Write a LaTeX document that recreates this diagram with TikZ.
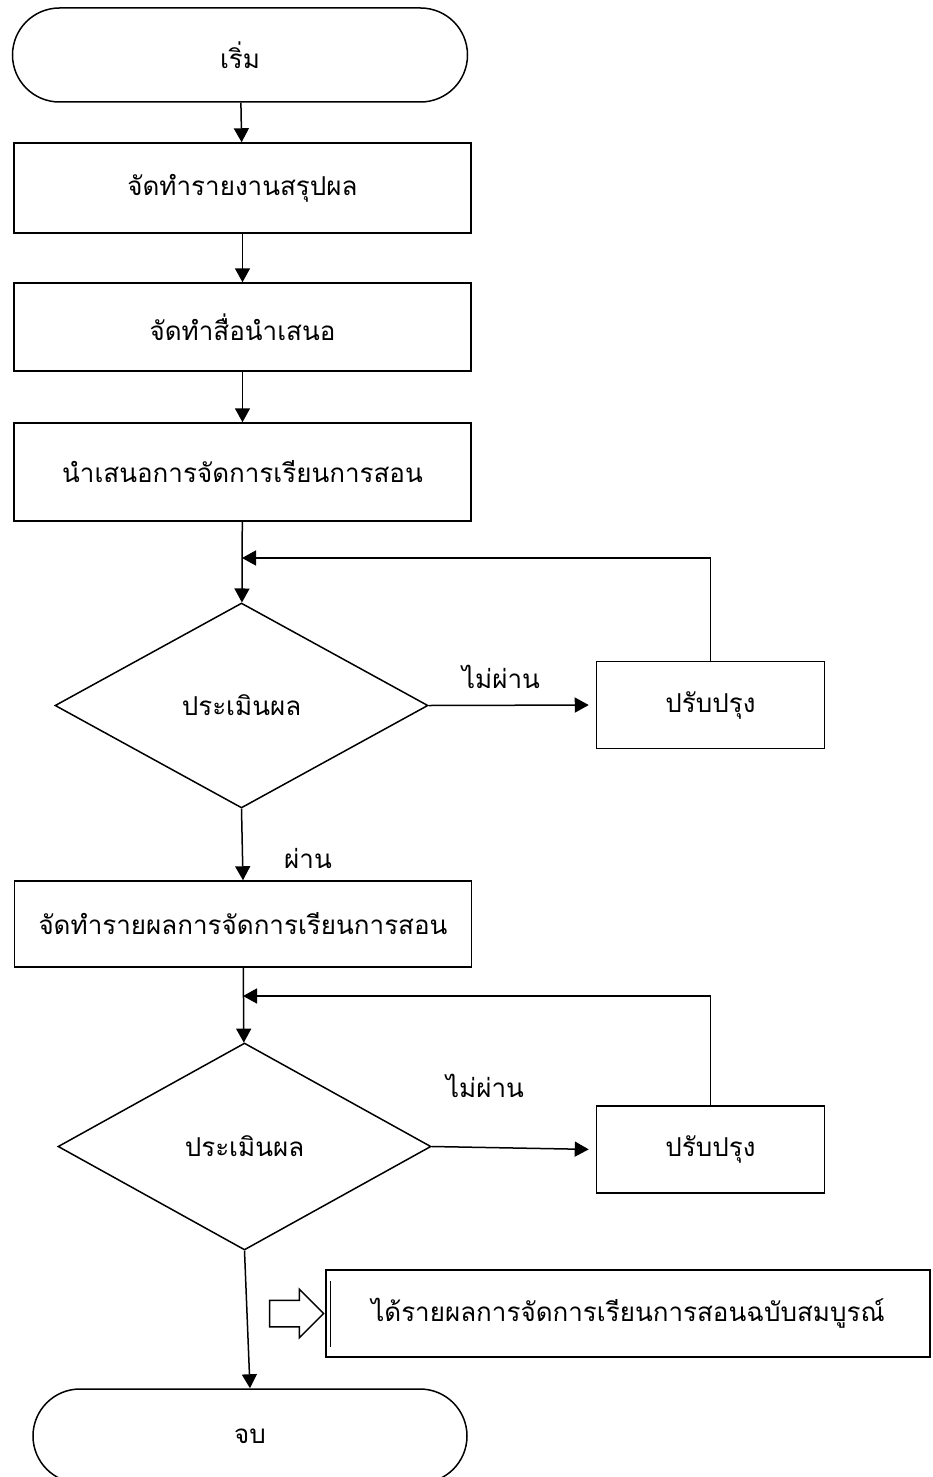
\documentclass[tikz,border=0pt]{standalone}
\usepackage{fontspec}
\newfontfamily\thaifont[Script=Thai]{Loma}
\usetikzlibrary{arrows.meta, shapes.geometric, shapes.misc, shapes.arrows}

\begin{document}
\begin{tikzpicture}[x=1pt, y=-1pt, >={Triangle[length=14pt, width=15pt]},
    line width=1.5pt, font=\thaifont\fontsize{26}{30}\selectfont,
    termbox/.style={draw, rounded rectangle, minimum height=94pt, inner sep=0pt},
    stepbox/.style={draw, rectangle, minimum width=457pt, inner sep=0pt},
    fixbox/.style={draw, rectangle, minimum width=228pt, minimum height=87pt, inner sep=0pt},
    checkbox/.style={draw, diamond, minimum width=373pt, inner sep=0pt}]
  \useasboundingbox (0,0) rectangle (932,1477);

  % main column
  \node[termbox, minimum width=455pt] (start) at (240,55) {เริ่ม};
  \node[stepbox, minimum height=90pt] (report) at (242.5,188) {จัดทำรายงานสรุปผล};
  \node[stepbox, minimum height=88pt] (media) at (242.5,327) {จัดทำสื่อนำเสนอ};
  \node[stepbox, minimum height=98pt] (present) at (242.5,472) {นำเสนอการจัดการเรียนการสอน};

  % first check
  \node[checkbox, minimum height=205pt] (check1) at (241.5,705.5) {ประเมินผล};
  \node[fixbox] (fix1) at (710.5,705) {ปรับปรุง};
  \coordinate (join1) at (242,558);

  \node[stepbox, minimum height=86pt] (summary) at (243,924) {จัดทำรายผลการจัดการเรียนการสอน};

  % second check
  \node[checkbox, minimum height=207pt] (check2) at (244.5,1146.5) {ประเมินผล};
  \node[fixbox] (fix2) at (710.5,1149.5) {ปรับปรุง};
  \coordinate (join2) at (243,996);

  % result note
  \node[draw, rectangle, minimum width=604pt, minimum height=87pt, inner sep=0pt] (result) at (628,1313.5)
    {ได้รายผลการจัดการเรียนการสอนฉบับสมบูรณ์};
  \draw ([shift={(5pt,-12pt)}]result.north west) -- ([shift={(5pt,11pt)}]result.south west);
  \node[draw, single arrow, minimum height=54pt, minimum width=47pt, single arrow head extend=11pt,
    inner xsep=0pt, inner ysep=12.5pt] (hint) at (290,1313.5) {};

  \node[termbox, minimum width=434pt] (end) at (250,1436) {จบ};

  % connectors
  \draw[->] (start) -- (report);
  \draw[->] (report) -- (media);
  \draw[->] (media) -- (present);
  \draw[->] (present) -- (check1);
  \draw[->] (fix1.north) |- (join1);
  \draw[->, shorten >=7pt] (check1.east) -- (fix1.west);
  \node (fail1) at (501,677) {ไม่ผ่าน};
  \draw[->] (check1.south) -- (summary.north);
  \node (pass1) at (308,858) {ผ่าน};
  \draw[->] (summary) -- (check2);
  \draw[->] (fix2.north) |- (join2);
  \draw[->, shorten >=7pt] (check2.east) -- (fix2.west);
  \node (fail2) at (485,1086) {ไม่ผ่าน};
  \draw[->] (check2.south) -- (end.north);
\end{tikzpicture}
\end{document}
